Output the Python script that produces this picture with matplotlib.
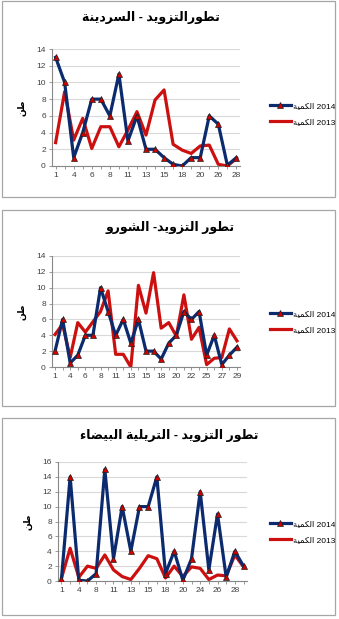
import matplotlib
matplotlib.use('Agg')
import matplotlib.pyplot as plt
from matplotlib.patches import Rectangle

plt.rcParams['font.family'] = ['Liberation Sans', 'DejaVu Sans']

# ---- data ----
days_sardine = [1, 3, 4, 5, 6, 7, 8, 10, 11, 12, 13, 14, 15, 17, 18, 19, 20, 25, 26, 27, 28]
sardine_2014 = [13, 10, 1, 4, 8, 8, 6, 11, 3, 6, 2, 2, 1, 0.2, 0, 1, 1, 6, 5, 0.1, 1]
sardine_2013 = [2.8, 8.9, 3.1, 5.7, 2.1, 4.7, 4.7, 2.3, 4.3, 6.5, 3.7, 7.9, 9.1, 2.6, 1.9, 1.5, 2.4, 2.5, 0.2, 0.0, 0.9]

days_chourou = [1, 3, 4, 5, 6, 7, 8, 10, 11, 12, 13, 14, 15, 17, 18, 19, 20, 21, 22, 24, 25, 26, 27, 28, 29]
chourou_2014 = [2, 6, 0.5, 1.5, 4, 4, 10, 7, 4, 6, 3, 6, 2, 2, 1, 3, 4, 7, 6, 7, 1.5, 4, 0.3, 1.5, 2.5]
chourou_2013 = [4.1, 5.4, 1.2, 5.6, 4.4, 5.7, 7.0, 9.6, 1.6, 1.6, 0, 10.3, 6.8, 11.9, 4.9, 5.6, 3.9, 9.1, 3.5, 5.0, 0.3, 1.1, 1.2, 4.8, 3.3]

days_chinchard = [1, 3, 4, 6, 8, 10, 11, 12, 13, 14, 15, 17, 18, 19, 20, 22, 24, 25, 26, 27, 28, 29]
chinchard_2014 = [0.3, 14, 0.1, 0, 1, 15, 3, 10, 4, 10, 10, 14, 1, 4, 0.1, 3, 12, 1.5, 9, 0.5, 4, 2]
chinchard_2013 = [0.4, 4.4, 0.5, 2.0, 1.7, 3.5, 1.5, 0.6, 0.2, 1.7, 3.4, 3.0, 0.4, 2.0, 0.6, 1.9, 1.7, 0.2, 0.8, 0.7, 3.5, 1.9]

titles = ['تطورالتزويد - السردينة', 'تطور التزويد- الشورو', 'تطور التزويد - التريلية البيضاء']

# presentation forms: isolated, final, initial, medial
FORMS = {
    'ء': ('\uFE80',),
    'ا': ('\uFE8D', '\uFE8E'),
    'ب': ('\uFE8F', '\uFE90', '\uFE91', '\uFE92'),
    'ة': ('\uFE93', '\uFE94'),
    'ت': ('\uFE95', '\uFE96', '\uFE97', '\uFE98'),
    'د': ('\uFEA9', '\uFEAA'),
    'ر': ('\uFEAD', '\uFEAE'),
    'ز': ('\uFEAF', '\uFEB0'),
    'س': ('\uFEB1', '\uFEB2', '\uFEB3', '\uFEB4'),
    'ش': ('\uFEB5', '\uFEB6', '\uFEB7', '\uFEB8'),
    'ض': ('\uFEBD', '\uFEBE', '\uFEBF', '\uFEC0'),
    'ط': ('\uFEC1', '\uFEC2', '\uFEC3', '\uFEC4'),
    'ك': ('\uFED9', '\uFEDA', '\uFEDB', '\uFEDC'),
    'ل': ('\uFEDD', '\uFEDE', '\uFEDF', '\uFEE0'),
    'م': ('\uFEE1', '\uFEE2', '\uFEE3', '\uFEE4'),
    'ن': ('\uFEE5', '\uFEE6', '\uFEE7', '\uFEE8'),
    'و': ('\uFEED', '\uFEEE'),
    'ي': ('\uFEF1', '\uFEF2', '\uFEF3', '\uFEF4'),
}


def ar(text):
    # minimal arabic shaping + reverse to visual order
    out = []
    for i, ch in enumerate(text):
        forms = FORMS.get(ch)
        if forms is None:
            out.append(ch)
            continue
        prev = text[i - 1] if i > 0 else ''
        nxt = text[i + 1] if i + 1 < len(text) else ''
        join_prev = len(FORMS.get(prev, ())) == 4
        join_next = len(forms) == 4 and len(FORMS.get(nxt, ())) >= 2
        if len(forms) == 1:
            f = forms[0]
        elif join_prev and join_next:
            f = forms[3]
        elif join_prev:
            f = forms[1]
        elif join_next:
            f = forms[2]
        else:
            f = forms[0]
        out.append(f)
    return ''.join(reversed(out))


BLUE = '#0B2B6E'
RED = '#CC1010'
W, H = 339, 619

fig = plt.figure(figsize=(W / 100, H / 100), dpi=100)

panels = [
    # days, 2014, 2013, ymax, axes rect (px: left, top, right, bottom), box (top, bottom), title (x, y), legend y
    (days_sardine, sardine_2014, sardine_2013, 14, (52, 49, 240, 166), (1, 197), (151, 18), 114),
    (days_chourou, chourou_2014, chourou_2013, 14, (52, 256, 240, 367), (210, 406), (170, 228), 322),
    (days_chinchard, chinchard_2014, chinchard_2013, 16, (58, 462, 247, 581), (418, 615), (169, 435), 532),
]

for k, (days, v14, v13, ymax, rect, box, tpos, leg_y) in enumerate(panels):
    # gray frame around each chart
    fig.patches.append(Rectangle((2 / W, 1 - box[1] / H), 333 / W, (box[1] - box[0]) / H,
                                 transform=fig.transFigure, fill=False,
                                 edgecolor='#A6A6A6', linewidth=0.9))

    l, t, r, b = rect
    ax = fig.add_axes([l / W, 1 - b / H, (r - l) / W, (b - t) / H])
    x = list(range(len(days)))
    ax.plot(x, v14, color=BLUE, linewidth=2.3, marker='^', markersize=4,
            markerfacecolor='#D00000', markeredgecolor='#202020', markeredgewidth=0.5,
            label=ar('الكمية') + ' 2014', zorder=3)
    ax.plot(x, v13, color=RED, linewidth=2.3, label=ar('الكمية') + ' 2013', zorder=2)

    ax.set_xlim(-0.4, len(days) - 0.6)
    ax.set_ylim(0, ymax)
    ax.set_yticks(range(0, ymax + 1, 2))
    ax.set_xticks(x[::2])
    ax.set_xticklabels([str(d) for d in days[::2]])
    ax.set_xticks(x, minor=True)
    ax.grid(axis='y', color='#D9D9D9', linewidth=0.8)
    ax.set_axisbelow(True)
    for s in ['top', 'right']:
        ax.spines[s].set_visible(False)
    for s in ['left', 'bottom']:
        ax.spines[s].set_color('#888888')
        ax.spines[s].set_linewidth(0.8)
    ax.tick_params(axis='both', which='both', length=2.5, width=0.6, color='#888888',
                   labelsize=6, labelcolor='#404040', pad=2)

    ax.set_ylabel(ar('طن'), fontsize=6.5, fontweight='bold', labelpad=7)

    fig.text(tpos[0] / W, 1 - tpos[1] / H, ar(titles[k]), ha='center', va='center',
             fontsize=9, fontweight='bold')

    ax.legend(loc='center left', bbox_to_anchor=(262 / W, 1 - leg_y / H),
              bbox_transform=fig.transFigure, frameon=False, fontsize=6,
              handlelength=2.6, handletextpad=0.2, labelspacing=1.0)

fig.savefig('out.png', dpi=100)
